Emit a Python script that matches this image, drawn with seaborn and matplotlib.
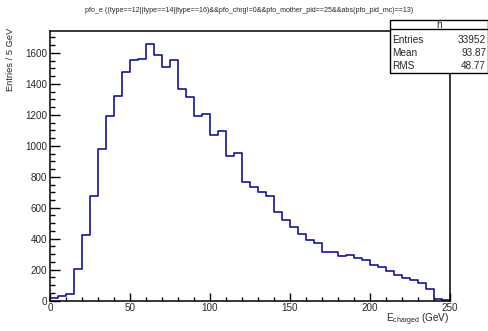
import numpy as np
import pandas as pd
import matplotlib
matplotlib.use("Agg")
import matplotlib.pyplot as plt
import seaborn as sns
from matplotlib.patches import Rectangle
from matplotlib.ticker import MultipleLocator

# ---- data ----
bin_edges_start = list(range(0, 250, 5))
counts = [15, 32, 45, 204, 421, 677, 978, 1191, 1324, 1475,
          1554, 1561, 1658, 1587, 1507, 1557, 1365, 1314, 1195, 1204,
          1071, 1096, 933, 954, 767, 736, 699, 673, 574, 521,
          477, 430, 389, 372, 316, 312, 290, 295, 275, 265,
          232, 217, 194, 166, 146, 134, 116, 73, 9, 2]
title = "pfo_e ((type==12||type==14||type==16)&&pfo_chrg!=0&&pfo_mother_pid==25&&abs(pfo_pid_mc)==13)"
stats_name = "h"
stats_labels = ["Entries", "Mean", "RMS"]
stats_values = ["33952", "93.87", "48.77"]
xlabel = r"E$_{\mathrm{charged}}$ (GeV)"
ylabel = "Entries / 5 GeV"

df = pd.DataFrame({"x": [b + 2.5 for b in bin_edges_start], "w": counts})

sns.set_style("ticks")
plt.rcParams["font.family"] = ["Liberation Sans", "DejaVu Sans"]
plt.rcParams["mathtext.fontset"] = "custom"
plt.rcParams["mathtext.rm"] = "Liberation Sans"
plt.rcParams["mathtext.it"] = "Liberation Sans:italic"

W, H = 488, 331
fig = plt.figure(figsize=(W / 100, H / 100), dpi=100)
fig.patch.set_facecolor("white")
L, R, T, B = 50, 449.5, 31, 300.7
ax = fig.add_axes([L / W, 1 - B / H, (R - L) / W, (B - T) / H])

sns.histplot(data=df, x="x", weights="w", binwidth=5, binrange=(0, 250),
             element="step", fill=False, color="#1414a0", linewidth=1.2, ax=ax)

ax.set_xlim(0, 250)
ax.set_ylim(0, 1741)
ax.xaxis.set_major_locator(MultipleLocator(50))
ax.xaxis.set_minor_locator(MultipleLocator(10))
ax.yaxis.set_major_locator(MultipleLocator(200))
ax.yaxis.set_minor_locator(MultipleLocator(50))
ax.tick_params(axis="both", which="both", direction="in", width=1.0, color="black",
               labelsize=7.1, top=False, right=False)
ax.tick_params(axis="y", which="major", length=7.5, pad=2)
ax.tick_params(axis="y", which="minor", length=3.8)
ax.tick_params(axis="x", which="major", length=5.5, pad=2)
ax.tick_params(axis="x", which="minor", length=2.8)
for s in ax.spines.values():
    s.set_visible(True)
    s.set_linewidth(1.1)
    s.set_color("black")
ax.set_xlabel("")
ax.set_ylabel("")

fig.text(249 / W, 1 - 11 / H, title, ha="center", va="center", fontsize=5.1)
fig.text(R / W, 1 - 322.5 / H, xlabel, ha="right", va="baseline", fontsize=7.2)
fig.text(11 / W, 1 - 28 / H, ylabel, ha="center", va="top", rotation=90, fontsize=6.7)

# stats box
bx0, bx1, by0, by1, hy = 390, 487.5, 20, 73.3, 29
fig.patches.append(Rectangle((bx0 / W, 1 - by1 / H), (bx1 - bx0) / W, (by1 - by0) / H,
                             transform=fig.transFigure, facecolor="white",
                             edgecolor="black", linewidth=1.0, zorder=5))
fig.lines.append(plt.Line2D([bx0 / W, bx1 / W], [1 - hy / H, 1 - hy / H],
                            transform=fig.transFigure, color="black", linewidth=1.0, zorder=6))
fig.text((bx0 + bx1) / 2 / W, 1 - 25 / H, stats_name, ha="center", va="center", fontsize=7.2, zorder=7)
for i, (lab, val) in enumerate(zip(stats_labels, stats_values)):
    y = 43.3 + i * 12.7
    fig.text(392 / W, 1 - y / H, lab, ha="left", va="baseline", fontsize=7.2, zorder=7)
    fig.text(486 / W, 1 - y / H, val, ha="right", va="baseline", fontsize=7.2, zorder=7)

fig.savefig("out.png", dpi=100)
